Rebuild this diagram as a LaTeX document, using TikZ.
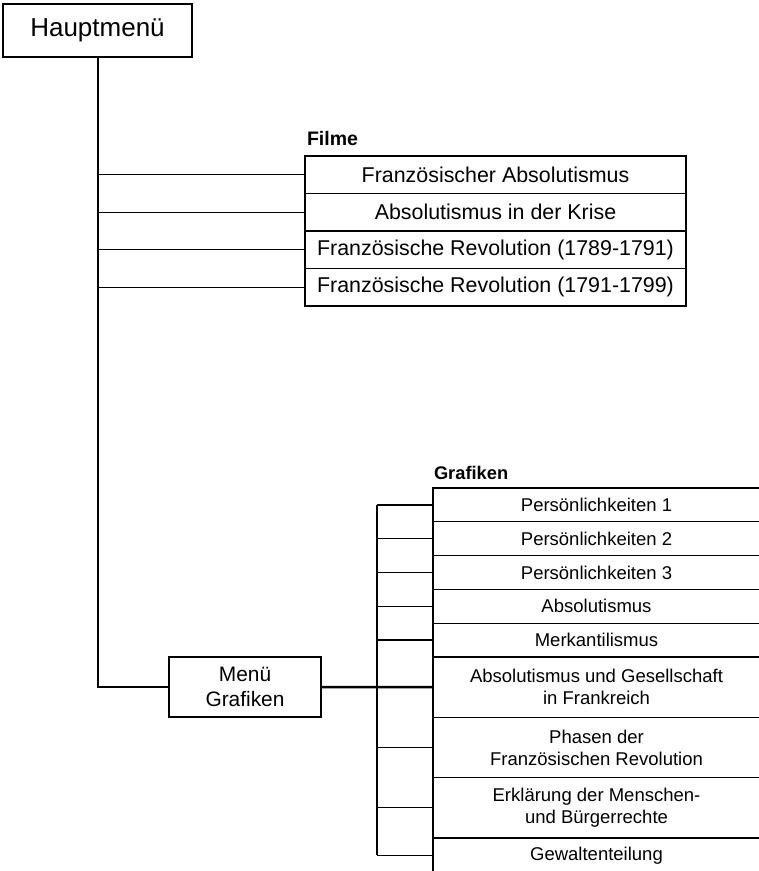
\documentclass[tikz,border=0pt]{standalone}
\usepackage{fontspec}
\setmainfont{Liberation Sans}
\usetikzlibrary{positioning}

\begin{document}
\begin{tikzpicture}[
            x = 1pt, y = -1pt, % units like pixels, y going down
            every node/.style = {inner sep = 0pt, outer sep = 0pt},
            thinline/.style = {line width = 1.3pt}
        ]

        \tikzstyle{film}=[
            draw, line width = 1.3pt,
            minimum width = 381pt, minimum height = 37.5pt,
            font = \fontsize{21.4}{25}\selectfont
        ]
        \tikzstyle{graf}=[
            draw, line width = 1.3pt, align = center,
            minimum width = 327pt, minimum height = 33.8pt,
            font = \fontsize{18.5}{22}\selectfont
        ]
        \tikzstyle{grafbig}=[graf, minimum height = 60.3pt]
        \tikzstyle{heading}=[anchor = west, font = \bfseries\fontsize{19.5}{23}\selectfont]

        \useasboundingbox (0,0) rectangle (759,871);

        \node[draw, line width = 2.8pt, minimum width = 189pt, minimum height = 53pt,
              font = \fontsize{26}{30}\selectfont] (haupt) at (97.5,30.5) {Hauptmenü};

        % Filme
        \node[heading] (filme) at (307,139) {Filme};
        \node[film] (f1) at (495.5,174.75) {Französischer Absolutismus};
        \node[film] (f2) [below=0pt of f1] {Absolutismus in der Krise};
        \node[film] (f3) [below=0pt of f2] {Französische Revolution (1789-1791)};
        \node[film] (f4) [below=0pt of f3] {Französische Revolution (1791-1799)};

        % Grafiken
        \node[draw, line width = 1.3pt, align = center, minimum width = 152pt, minimum height = 60pt,
              font = \fontsize{20.9}{25}\selectfont] (menu) at (245,687) {Menü\\Grafiken};

        \node[heading, font = \bfseries\fontsize{18.3}{22}\selectfont] (grafiken) at (434,473) {Grafiken};
        \node[graf] (g1) at (596.5,504.9) {Persönlichkeiten 1};
        \node[graf] (g2) [below=0pt of g1] {Persönlichkeiten 2};
        \node[graf] (g3) [below=0pt of g2] {Persönlichkeiten 3};
        \node[graf] (g4) [below=0pt of g3] {Absolutismus};
        \node[graf] (g5) [below=0pt of g4] {Merkantilismus};
        \node[grafbig] (g6) [below=0pt of g5] {Absolutismus und Gesellschaft\\in Frankreich};
        \node[grafbig] (g7) [below=0pt of g6] {Phasen der\\Französischen Revolution};
        \node[grafbig] (g8) [below=0pt of g7] {Erklärung der Menschen-\\und Bürgerrechte};
        \node[graf, minimum height = 35pt] (g9) [below=0pt of g8] {Gewaltenteilung};

        \coordinate (brk) at (377,505);

        \draw[line width = 2pt] (haupt.south) -- (haupt.south |- menu.west) -- (menu.west);
        \foreach \n in {f1,f2,f3,f4}
            \draw[thinline] (haupt.south |- \n.west) -- (\n.west);

        \draw[thinline] (brk |- g1.west) -- (brk |- g9.west);
        \foreach \n in {g1,g2,g3,g4,g5,g7,g8,g9}
            \draw[thinline] (brk |- \n.west) -- (\n.west);
        \draw[line width = 2.5pt] (menu.east) -- (g6.west);

  \end{tikzpicture}
\end{document}
